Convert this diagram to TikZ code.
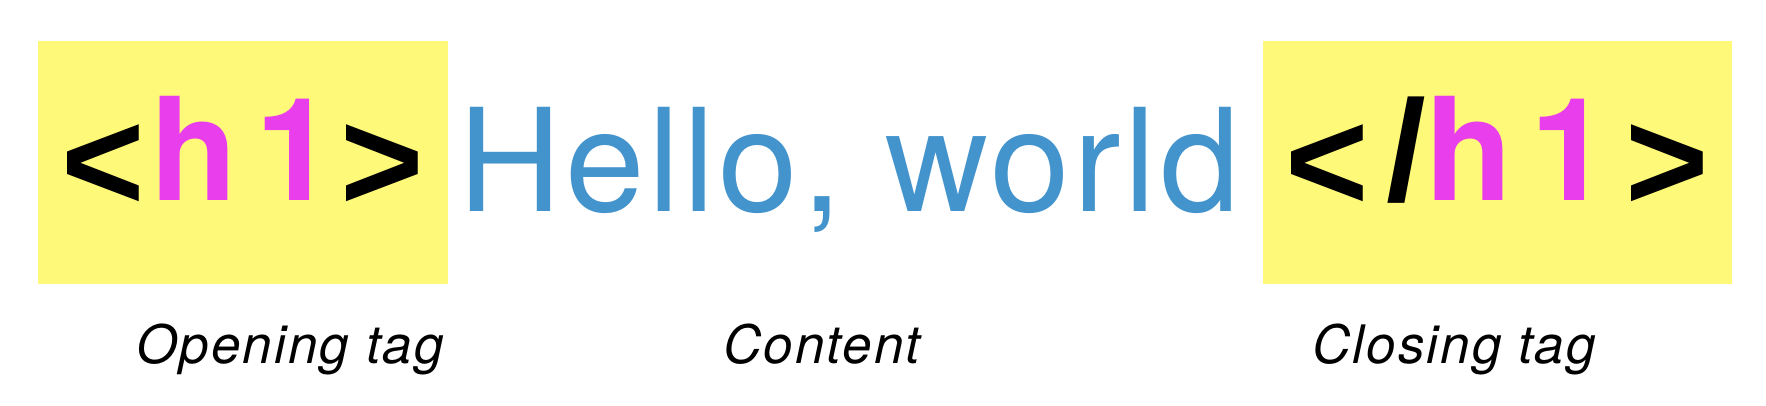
\documentclass[tikz,border=0pt]{standalone}
\usepackage{fontspec}
\setmainfont{TeX Gyre Heros}
\newfontfamily\bracketfont{Liberation Sans}
\usetikzlibrary{positioning}

\definecolor{tagyellow}{RGB}{255,249,122}
\definecolor{tagpink}{RGB}{232,62,236}
\definecolor{textblue}{RGB}{67,147,204}

% brackets and slash of a tag
\newcommand{\tagsign}[2][0pt]{\raisebox{#1}{\bracketfont\bfseries\addfontfeature{LetterSpace=12}#2}}

\begin{document}
\begin{tikzpicture}[
  x=0.5pt, y=-0.5pt,
  tagbox/.style={rectangle, fill=tagyellow, inner sep=0pt, minimum height=121.5pt,
    text height=38.5pt, text depth=0pt,
    font=\fontsize{71.5}{80}\selectfont\bfseries\addfontfeature{LetterSpace=12}},
  content/.style={inner sep=0pt, anchor=base, text=textblue,
    font=\fontsize{71.5}{80}\selectfont\addfontfeature{LetterSpace=2.5}},
  caption/.style={inner sep=0pt, anchor=base,
    font=\fontsize{26.5}{30}\selectfont\itshape\addfontfeature{LetterSpace=4}}
]
\useasboundingbox (0,0) rectangle (1766,406);

% Tags and content
\node[tagbox, minimum width=205pt] (opentag) at (243,162.5)
  {\tagsign[-5pt]{<}\hspace{2.8pt}\textcolor{tagpink}{h1}\hspace{2.8pt}\tagsign[-5pt]{>}};
\node[content] (hello) at (849,212) {Hello, world};
\node[tagbox, minimum width=234.5pt] (closetag) at (1497.5,162.5)
  {\tagsign[-5pt]{<}\hspace{8.4pt}\tagsign{/}\textcolor{tagpink}{h1}\hspace{7.9pt}\tagsign[-5pt]{>}};

% Captions
\node[caption] (openlabel) at (290,363) {Opening tag};
\node[caption] (contentlabel) at (822,363) {Content};
\node[caption] (closelabel) at (1454,363) {Closing tag};

\end{tikzpicture}
\end{document}
